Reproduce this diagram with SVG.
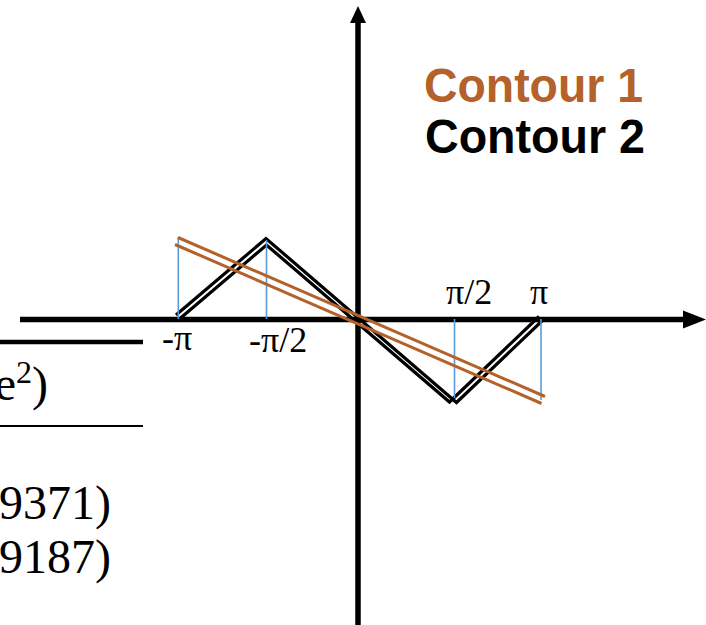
<svg xmlns="http://www.w3.org/2000/svg" width="706" height="625" viewBox="0 0 706 625">
<style>
.ax{stroke:#000;stroke-width:5.5;fill:none}
.blk{stroke:#000;stroke-width:3.2;fill:none;stroke-linejoin:miter;stroke-miterlimit:10}
.brn{stroke:#B4612C;stroke-width:3;fill:none}
.blu{stroke:#5B9BD5;stroke-width:1.6;fill:none}
.lbl{font-family:"Liberation Serif","Times New Roman",serif;font-size:36px;fill:#000}
.tbl{font-family:"Liberation Serif","Times New Roman",serif;font-size:48px;fill:#000}
.leg{font-family:"Liberation Sans",Arial,sans-serif;font-weight:bold;font-size:48px}
</style>
<rect width="706" height="625" fill="#fff"/>
<g id="table">
<line x1="0" y1="342" x2="143" y2="342" stroke="#000" stroke-width="4.5"/>
<line x1="0" y1="426" x2="143" y2="426" stroke="#000" stroke-width="1.8"/>
<text class="tbl" x="48" y="400" text-anchor="end">e<tspan font-size="32" dy="-17">2</tspan><tspan dy="17">)</tspan></text>
<text class="tbl" x="111" y="519" text-anchor="end">9371)</text>
<text class="tbl" x="111" y="573" text-anchor="end">9187)</text>
</g>
<g id="axes">
<line class="ax" x1="20" y1="319.5" x2="684" y2="319.5"/>
<polygon points="683,310.5 706,319.5 683,328.5" fill="#000"/>
<line class="ax" x1="358" y1="625" x2="358" y2="22"/>
<polygon points="350,23 358,6 366,23" fill="#000"/>
</g>
<g id="contour2">
<polyline class="blk" points="176,315 266,238.5 456.5,402.5 543,320"/>
<polyline class="blk" points="180,318.5 266.5,245 449.5,402 539,316.5"/>
</g>
<g id="guides">
<line class="blu" x1="178.3" y1="237" x2="178.3" y2="319"/>
<line class="blu" x1="266.5" y1="240" x2="266.5" y2="319"/>
<line class="blu" x1="454.5" y1="319" x2="454.5" y2="398"/>
<line class="blu" x1="541" y1="319" x2="541" y2="400"/>
</g>
<g id="contour1">
<line class="brn" x1="178" y1="237.5" x2="545" y2="396.5"/>
<line class="brn" x1="175" y1="244.5" x2="541.5" y2="403.5"/>
</g>
<g id="labels">
<text class="lbl" x="162" y="350">-π</text>
<text class="lbl" x="249" y="352">-π/2</text>
<text class="lbl" x="446" y="304">π/2</text>
<text class="lbl" x="530" y="304">π</text>
</g>
<g id="legend">
<text class="leg" x="424" y="102" fill="#B4612C" textLength="219" lengthAdjust="spacingAndGlyphs">Contour 1</text>
<text class="leg" x="425" y="153" fill="#000" textLength="220" lengthAdjust="spacingAndGlyphs">Contour 2</text>
</g>
</svg>
